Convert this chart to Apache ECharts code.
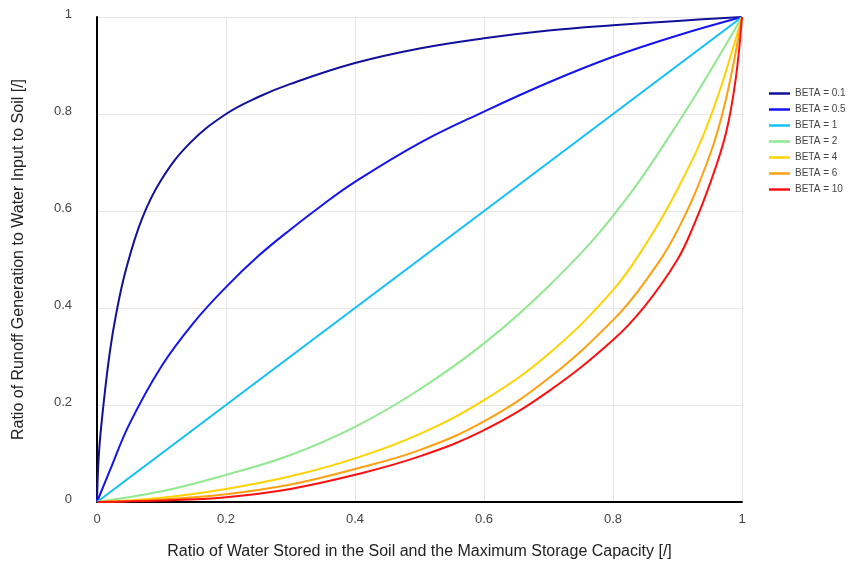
<!DOCTYPE html>
<html>
<head>
<meta charset="utf-8">
<script src="https://cdn.jsdelivr.net/npm/echarts@6/dist/echarts.min.js"></script>
<style>
  html, body { margin: 0; padding: 0; background: #ffffff; }
  #chart { width: 850px; height: 565px; }
</style>
</head>
<body>
<div id="chart"></div>
<script>
// Runoff ratio curves for several BETA shape parameters
const seriesNames = ['BETA = 0.1', 'BETA = 0.5', 'BETA = 1', 'BETA = 2', 'BETA = 4', 'BETA = 6', 'BETA = 10'];
const seriesColors = ['#10109a', '#1414f0', '#10c0f8', '#90e890', '#ffd200', '#ffa010', '#ff1010'];

const beta01X = [0, 0.003, 0.01, 0.02, 0.03, 0.045, 0.07, 0.1, 0.144, 0.2, 0.25, 0.3, 0.4, 0.5, 0.6, 0.7, 0.8, 0.9, 1];
const beta01Y = [0, 0.1, 0.2, 0.31, 0.39, 0.48, 0.585, 0.665, 0.74, 0.8, 0.835, 0.862, 0.905, 0.935, 0.956, 0.972, 0.983, 0.992, 1];

const beta05X = [0, 0.02, 0.05, 0.1, 0.15, 0.2, 0.25, 0.3, 0.35, 0.4, 0.5, 0.6, 0.7, 0.8, 0.9, 1];
const beta05Y = [0, 0.065, 0.16, 0.28, 0.37, 0.443, 0.507, 0.562, 0.613, 0.66, 0.74, 0.805, 0.865, 0.918, 0.962, 1];

const beta1X = [0, 0.5, 1];
const beta1Y = [0, 0.5, 1];

const beta2X = [0, 0.1, 0.2, 0.3, 0.4, 0.5, 0.6, 0.7, 0.8, 0.9, 1];
const beta2Y = [0, 0.022, 0.056, 0.097, 0.155, 0.232, 0.327, 0.445, 0.59, 0.78, 1];

const beta4X = [0, 0.1, 0.2, 0.3, 0.4, 0.5, 0.6, 0.7, 0.8, 0.85, 0.9, 0.95, 1];
const beta4Y = [0, 0.009, 0.027, 0.053, 0.09, 0.14, 0.21, 0.305, 0.437, 0.53, 0.645, 0.79, 1];

const beta6X = [0, 0.1, 0.2, 0.3, 0.4, 0.5, 0.6, 0.7, 0.8, 0.85, 0.9, 0.95, 0.975, 1];
const beta6Y = [0, 0.005, 0.016, 0.036, 0.068, 0.107, 0.166, 0.255, 0.375, 0.455, 0.56, 0.715, 0.83, 1];

const beta10X = [0, 0.1, 0.2, 0.3, 0.4, 0.5, 0.6, 0.7, 0.8, 0.85, 0.9, 0.925, 0.95, 0.975, 0.99, 1];
const beta10Y = [0, 0.003, 0.01, 0.027, 0.056, 0.094, 0.148, 0.228, 0.334, 0.405, 0.5, 0.57, 0.655, 0.76, 0.87, 1];

const xTicks = [0, 0.2, 0.4, 0.6, 0.8, 1];
const yTicks = [0, 0.2, 0.4, 0.6, 0.8, 1];

const xLists = [beta01X, beta05X, beta1X, beta2X, beta4X, beta6X, beta10X];
const yLists = [beta01Y, beta05Y, beta1Y, beta2Y, beta4Y, beta6Y, beta10Y];

const pairUp = (xs, ys) => xs.map((x, i) => [x, ys[i]]);

const fontFamily = '"Liberation Sans", Arial, sans-serif';

const chart = echarts.init(document.getElementById('chart'), null, { renderer: 'canvas' });

chart.setOption({
  animation: false,
  backgroundColor: '#ffffff',
  textStyle: { fontFamily: fontFamily },
  grid: { left: 97, top: 17, right: 108, bottom: 63, containLabel: false },
  legend: {
    orient: 'vertical',
    left: 764,
    top: 83,
    icon: 'rect',
    itemWidth: 21,
    itemHeight: 2.5,
    itemGap: 5,
    data: seriesNames,
    textStyle: { fontSize: 10, lineHeight: 11, color: '#444444', fontFamily: fontFamily }
  },
  xAxis: {
    type: 'value',
    min: xTicks[0],
    max: xTicks[xTicks.length - 1],
    interval: 0.2,
    name: 'Ratio of Water Stored in the Soil and the Maximum Storage Capacity [/]',
    nameLocation: 'middle',
    nameGap: 42,
    nameTextStyle: { fontSize: 16, color: '#222222', fontFamily: fontFamily },
    axisLine: { show: true, onZero: false, lineStyle: { color: '#000000', width: 2 } },
    axisTick: { show: false },
    axisLabel: { fontSize: 13, color: '#444444', margin: 11, fontFamily: fontFamily },
    splitLine: { show: true, lineStyle: { color: '#e6e6e6', width: 1 } }
  },
  yAxis: {
    type: 'value',
    min: yTicks[0],
    max: yTicks[yTicks.length - 1],
    interval: 0.2,
    name: 'Ratio of Runoff Generation to Water Input to Soil [/]',
    nameLocation: 'middle',
    nameGap: 70,
    nameTextStyle: { fontSize: 16, color: '#222222', fontFamily: fontFamily },
    axisLine: { show: true, onZero: false, lineStyle: { color: '#000000', width: 2 } },
    axisTick: { show: false },
    axisLabel: { fontSize: 13, color: '#444444', margin: 25, verticalAlign: 'bottom', lineHeight: 6, fontFamily: fontFamily },
    splitLine: { show: true, lineStyle: { color: '#e6e6e6', width: 1 } }
  },
  series: seriesNames.map((name, i) => ({
    name: name,
    type: 'line',
    data: pairUp(xLists[i], yLists[i]),
    symbol: 'none',
    smooth: 0.4,
    color: seriesColors[i],
    lineStyle: { width: 2, color: seriesColors[i] }
  }))
});
</script>
</body>
</html>
